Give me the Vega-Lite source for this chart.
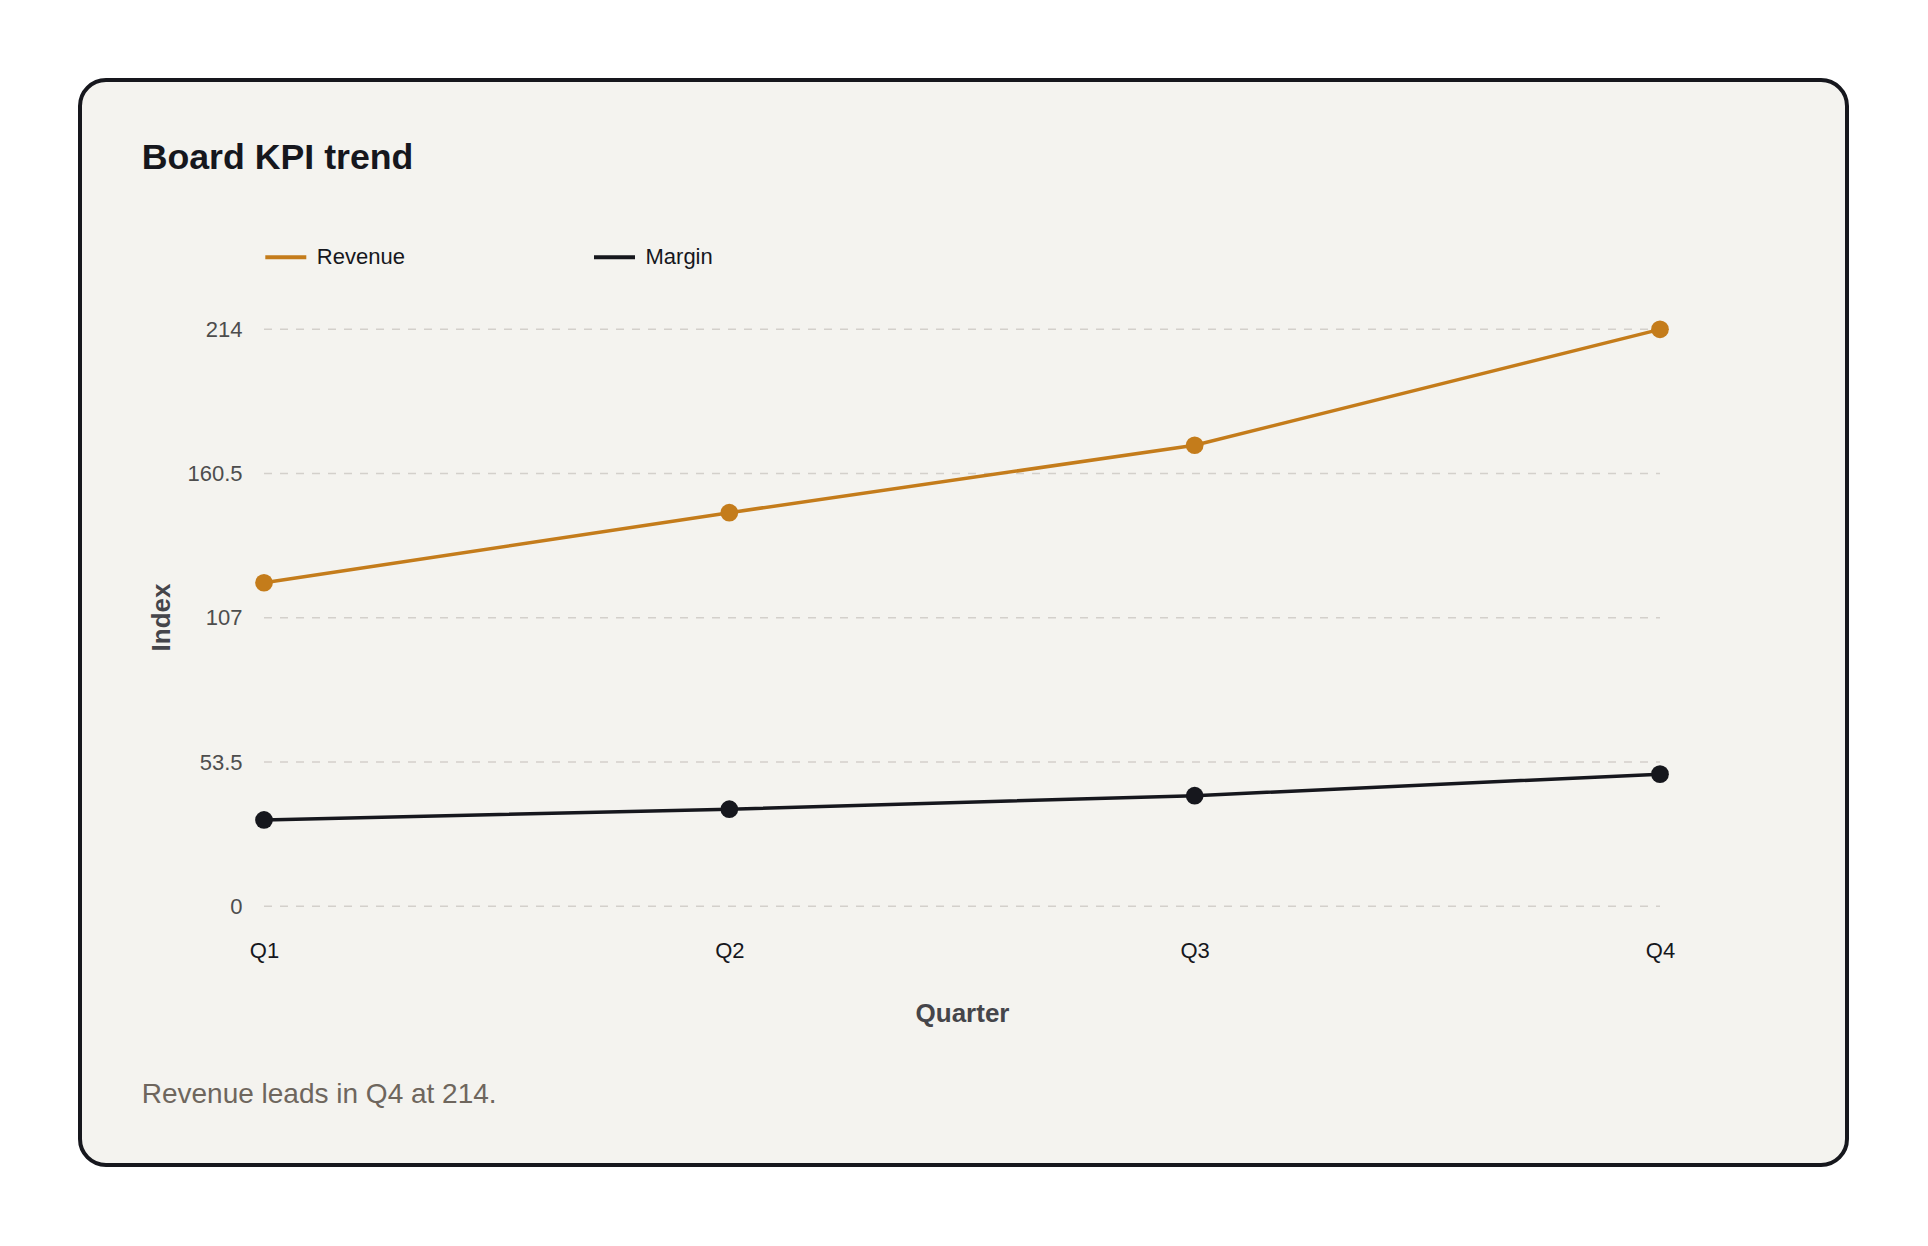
{
  "$schema": "https://vega.github.io/schema/vega-lite/v6.json",
  "description": "Board KPI trend: revenue and margin index by quarter.",
  "autosize": {"type": "none"},
  "width": 1767,
  "height": 1085,
  "padding": {"left": 80, "top": 80, "right": 81, "bottom": 81},
  "background": "#ffffff",
  "view": {"fill": "#f4f3ef", "stroke": "#16171d", "strokeWidth": 4, "cornerRadius": 26},
  "title": {
    "text": "Board KPI trend",
    "subtitle": "Revenue leads in Q4 at 214.",
    "anchor": "start",
    "frame": "group",
    "orient": "top",
    "dx": 61.7,
    "offset": -1030,
    "subtitlePadding": 904,
    "font": "Liberation Sans",
    "fontSize": 35.7,
    "fontWeight": "bold",
    "color": "#16171d",
    "subtitleFont": "Liberation Sans",
    "subtitleFontSize": 28,
    "subtitleColor": "#6e665d"
  },
  "datasets": {
    "kpi": [
      {"quarter": "Q1", "series": "Revenue", "value": 120},
      {"quarter": "Q2", "series": "Revenue", "value": 146},
      {"quarter": "Q3", "series": "Revenue", "value": 171},
      {"quarter": "Q4", "series": "Revenue", "value": 214},
      {"quarter": "Q1", "series": "Margin", "value": 32},
      {"quarter": "Q2", "series": "Margin", "value": 36},
      {"quarter": "Q3", "series": "Margin", "value": 41},
      {"quarter": "Q4", "series": "Margin", "value": 49}
    ],
    "grid": [
      {"value": 0},
      {"value": 53.5},
      {"value": 107},
      {"value": 160.5},
      {"value": 214}
    ]
  },
  "encoding": {
    "y": {
      "field": "value",
      "type": "quantitative",
      "title": "Index",
      "scale": {"domain": [-96, 306.5], "nice": false, "zero": false},
      "axis": {
        "values": [0, 53.5, 107, 160.5, 214],
        "labelExpr": "datum.value",
        "grid": false,
        "domain": false,
        "ticks": false,
        "offset": -162,
        "labelPadding": 0,
        "labelFont": "Liberation Sans",
        "labelFontSize": 22,
        "labelColor": "#4d4d4d",
        "titleFont": "Liberation Sans",
        "titleFontSize": 26,
        "titleFontWeight": "bold",
        "titleColor": "#45454a",
        "titlePadding": 12.5,
        "titleY": 537
      }
    }
  },
  "layer": [
    {
      "mark": {"type": "rule", "color": "#dedad4", "strokeWidth": 1.5},
      "encoding": {
        "y": {"datum": 0, "type": "quantitative"},
        "x": {"datum": "Q1", "type": "ordinal"},
        "x2": {"datum": "Q4"}
      }
    },
    {
      "data": {"name": "grid"},
      "mark": {"type": "rule", "color": "#d3d0cb", "strokeWidth": 1.5, "strokeDash": [8, 8]},
      "encoding": {
        "x": {"datum": "Q1", "type": "ordinal"},
        "x2": {"datum": "Q4"}
      }
    },
    {
      "data": {"name": "kpi"},
      "mark": {"type": "line", "strokeWidth": 3.5},
      "encoding": {
        "x": {
          "field": "quarter",
          "type": "ordinal",
          "title": "Quarter",
          "scale": {"type": "point", "range": [184, 1580], "padding": 0},
          "axis": {
            "labelAngle": 0,
            "labelAlign": "center",
            "grid": false,
            "domain": false,
            "ticks": false,
            "offset": -214.4,
            "labelPadding": 0,
            "labelFont": "Liberation Sans",
            "labelFontSize": 22,
            "labelColor": "#16171d",
            "titleFont": "Liberation Sans",
            "titleFontSize": 26,
            "titleFontWeight": "bold",
            "titleColor": "#45454a",
            "titlePadding": 38.5
          }
        },
        "color": {
          "field": "series",
          "type": "nominal",
          "scale": {"domain": ["Revenue", "Margin"], "range": ["#c47c1b", "#16171d"]},
          "legend": {
            "orient": "none",
            "legendX": 183.3,
            "legendY": 154.5,
            "direction": "horizontal",
            "columns": 2,
            "columnPadding": 180.7,
            "title": null,
            "padding": 0,
            "symbolType": "stroke",
            "symbolSize": 1681,
            "symbolStrokeWidth": 4,
            "labelFont": "Liberation Sans",
            "labelFontSize": 22,
            "labelColor": "#16171d",
            "labelOffset": 8.5
          }
        }
      }
    },
    {
      "data": {"name": "kpi"},
      "mark": {"type": "point", "filled": true, "opacity": 1, "size": 314},
      "encoding": {
        "x": {"field": "quarter", "type": "ordinal"},
        "color": {"field": "series", "type": "nominal"}
      }
    }
  ]
}
